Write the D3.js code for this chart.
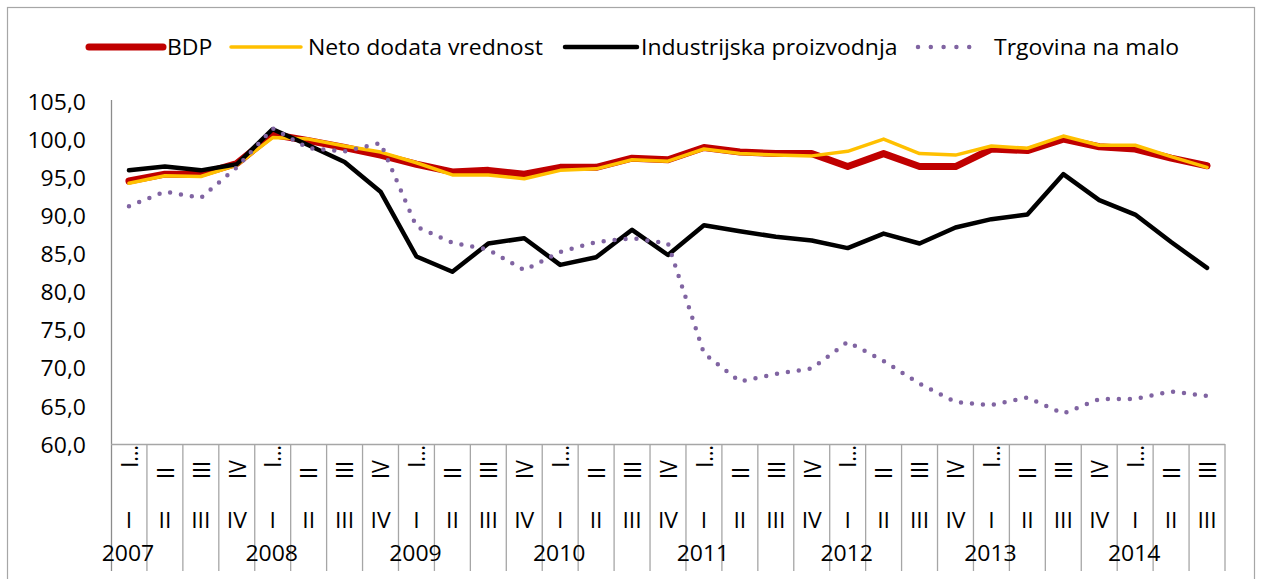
<!DOCTYPE html>
<html>
<head>
<meta charset="utf-8">
<script src="https://cdn.jsdelivr.net/npm/d3@7"></script>
<style>
  body { margin: 0; background: #fff; }
  text { font-family: "Open Sans", "Noto Sans", sans-serif; fill: #000; }
</style>
</head>
<body>
<script>
var svgWidth = 1262;
var svgHeight = 579;

// data
var years = ["2007", "2008", "2009", "2010", "2011", "2012", "2013", "2014"];
var quarters = ["I", "II", "III", "IV"];
var quartersTop = ["I\u2026", "II", "III", "IV"];
var yTicks = [60, 65, 70, 75, 80, 85, 90, 95, 100, 105];

var bdp = [94.5, 95.4, 95.4, 96.8, 100.6, 99.8, 98.9, 97.9, 96.7, 95.7, 95.9, 95.4, 96.3, 96.3, 97.5, 97.3,
           98.9, 98.3, 98.1, 98.1, 96.4, 98.1, 96.4, 96.4, 98.7, 98.5, 100.0, 99.0, 98.7, 97.5, 96.5];
var neto = [94.2, 95.2, 95.1, 96.6, 100.2, 100.0, 99.1, 98.3, 96.9, 95.3, 95.3, 94.8, 95.9, 96.1, 97.3, 97.1,
            98.7, 98.1, 97.9, 97.8, 98.4, 100.0, 98.1, 97.9, 99.1, 98.8, 100.4, 99.2, 99.2, 97.7, 96.3];
var industrija = [95.9, 96.4, 95.9, 96.7, 101.3, 99.2, 97.0, 93.1, 84.6, 82.6, 86.3, 87.0, 83.5, 84.5, 88.1, 84.8,
                  88.7, 87.9, 87.2, 86.7, 85.7, 87.6, 86.3, 88.4, 89.5, 90.1, 95.4, 92.0, 90.1, 86.5, 83.1];
var trgovina = [91.2, 93.1, 92.3, 96.3, 101.4, 98.8, 98.4, 99.5, 88.5, 86.4, 85.5, 82.8, 85.2, 86.5, 87.0, 86.3,
                71.9, 68.2, 69.2, 69.9, 73.4, 70.9, 67.9, 65.5, 65.1, 66.1, 64.0, 65.9, 65.9, 66.9, 66.3];

var nPoints = bdp.length;
var cats = [];
for (var i = 0; i < nPoints; i++) {
  cats.push({key: years[Math.floor(i / 4)] + "-" + quarters[i % 4], year: years[Math.floor(i / 4)], q: i % 4});
}

var series = [
  {name: "BDP", values: bdp, color: "#C00000", width: 7, dash: null},
  {name: "Neto dodata vrednost", values: neto, color: "#FFC000", width: 3.5, dash: null},
  {name: "Industrijska proizvodnja", values: industrija, color: "#000000", width: 4.5, dash: null},
  {name: "Trgovina na malo", values: trgovina, color: "#8064A2", width: 4.5, dash: "0 11"}
];

var plot = {left: 111, right: 1225, top: 101, bottom: 444};
var fontSize = 21.5;
var stretch = 1.07;

var svg = d3.select("body").append("svg").attr("width", svgWidth).attr("height", svgHeight);

svg.append("rect")
    .attr("x", 7.5).attr("y", 7.5)
    .attr("width", 1247).attr("height", 600)
    .attr("fill", "none").attr("stroke", "#a6a6a6").attr("stroke-width", 1.2);

var xScale = d3.scaleBand().domain(cats.map(function(d) { return d.key; }))
    .range([plot.left, plot.right]).padding(0);
var bw = xScale.bandwidth();
var xMid = function(i) { return xScale(cats[i].key) + bw / 2; };

var yScale = d3.scaleLinear().domain([60, 105]).range([plot.bottom, plot.top]);

// y axis
var yAxis = d3.axisLeft(yScale)
    .tickValues(yTicks)
    .tickSize(0)
    .tickFormat(function(d) { return d3.format(".1f")(d).replace(".", ","); });

var yG = svg.append("g").attr("transform", "translate(" + plot.left + ",0)").call(yAxis);
yG.select(".domain").remove();
yG.selectAll("text")
    .attr("font-size", fontSize)
    .attr("font-family", null)
    .attr("x", null).attr("dy", null)
    .attr("dominant-baseline", "central")
    .attr("text-anchor", "end")
    .attr("transform", "translate(-25,0) scale(" + stretch + ",1)");

svg.append("line")
    .attr("x1", plot.left + 0.5).attr("x2", plot.left + 0.5)
    .attr("y1", plot.top - 1).attr("y2", 571)
    .attr("stroke", "#8c8c8c").attr("stroke-width", 1.3);

// x axis (multi-level categories)
var xAxis = d3.axisBottom(xScale)
    .tickSize(0)
    .tickFormat(function(k, i) { return quartersTop[cats[i].q]; });

var xG = svg.append("g").attr("transform", "translate(0," + plot.bottom + ")").call(xAxis);
xG.select(".domain").remove();
// truncated labels sit at the top of the row, the others at the bottom
xG.selectAll("text")
    .attr("font-size", fontSize)
    .attr("font-family", null)
    .attr("y", null).attr("dy", null)
    .attr("dominant-baseline", "central")
    .attr("text-anchor", function(d, i) { return cats[i].q === 0 ? "end" : "start"; })
    .attr("transform", function(d, i) {
      var ty = cats[i].q === 0 ? 1 : 35;
      return "translate(0," + ty + ") scale(" + stretch + ",1) rotate(-90)";
    });

svg.append("line")
    .attr("x1", plot.left).attr("x2", plot.right)
    .attr("y1", plot.bottom + 0.5).attr("y2", plot.bottom + 0.5)
    .attr("stroke", "#a6a6a6").attr("stroke-width", 1.3);

svg.selectAll(".sep")
    .data(cats)
    .enter().append("line")
    .attr("class", "sep")
    .attr("x1", function(d) { return xScale(d.key) + bw; })
    .attr("x2", function(d) { return xScale(d.key) + bw; })
    .attr("y1", plot.bottom).attr("y2", 571)
    .attr("stroke", "#a6a6a6").attr("stroke-width", 1.3);

svg.selectAll(".qlab")
    .data(cats)
    .enter().append("text")
    .attr("class", "qlab")
    .attr("font-size", fontSize)
    .attr("text-anchor", "middle")
    .attr("transform", function(d, i) { return "translate(" + xMid(i) + ",528) scale(" + stretch + ",1)"; })
    .text(function(d) { return quarters[d.q]; });

svg.selectAll(".ylab")
    .data(cats.filter(function(d) { return d.q === 0; }))
    .enter().append("text")
    .attr("class", "ylab")
    .attr("font-size", fontSize)
    .attr("text-anchor", "middle")
    .attr("transform", function(d) { return "translate(" + (xScale(d.key) + bw / 2 - 1) + ",561) scale(" + stretch + ",1)"; })
    .text(function(d) { return d.year; });

// lines
var line = d3.line()
    .x(function(d, i) { return xMid(i); })
    .y(function(d) { return yScale(d); });

series.forEach(function(s) {
  svg.append("path")
      .datum(s.values)
      .attr("d", line)
      .attr("fill", "none")
      .attr("stroke", s.color)
      .attr("stroke-width", s.width)
      .attr("stroke-linejoin", "round")
      .attr("stroke-linecap", "round")
      .attr("stroke-dasharray", s.dash);
});

// legend
var legendItems = [
  {x1: 89, x2: 163, tx: 167},
  {x1: 231, x2: 301, tx: 308},
  {x1: 565, x2: 637, tx: 641},
  {x1: 918, x2: 982, tx: 994}
];
var legend = svg.append("g").attr("class", "legend");
series.forEach(function(s, i) {
  var it = legendItems[i];
  legend.append("line")
      .attr("x1", it.x1).attr("x2", it.x2)
      .attr("y1", 47).attr("y2", 47)
      .attr("stroke", s.color)
      .attr("stroke-width", s.width)
      .attr("stroke-linecap", "round")
      .attr("stroke-dasharray", s.dash ? "0 12.8" : null);
  legend.append("text")
      .attr("font-size", fontSize)
      .attr("transform", "translate(" + it.tx + ",55) scale(" + stretch + ",1)")
      .text(s.name);
});
</script>
</body>
</html>
